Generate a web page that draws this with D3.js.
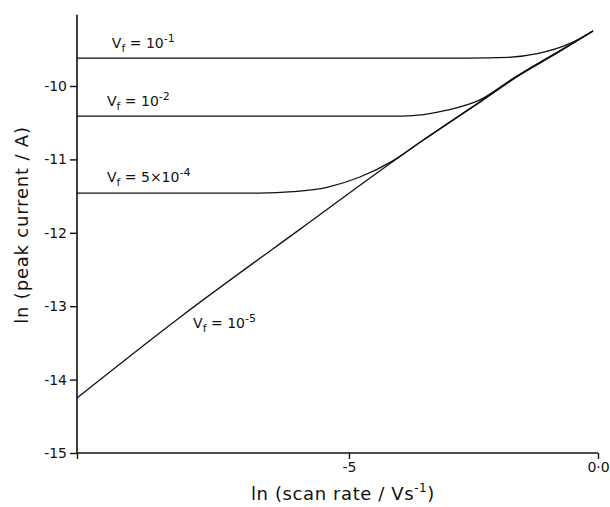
<!DOCTYPE html>
<html>
<head>
<meta charset="utf-8">
<script src="https://cdn.jsdelivr.net/npm/d3@7"></script>
<style>
  html, body { margin: 0; padding: 0; background: #fff; }
  svg { display: block; }
  text { font-family: "DejaVu Sans", "Liberation Sans", sans-serif; fill: #111; }
</style>
</head>
<body>
<svg id="chart" width="610" height="507"></svg>
<script>
// ln(scan rate) and ln(peak current) for each volume fraction Vf
const vf1X = [-10.46, -2.6, -1.8, -1.22, -0.56, -0.10];
const vf1Y = [-9.62, -9.62, -9.61, -9.56, -9.42, -9.25];

const vf2X = [-10.46, -3.92, -3.03, -2.37, -1.71, -1.37, -0.82, -0.10];
const vf2Y = [-10.41, -10.41, -10.33, -10.19, -9.90, -9.76, -9.54, -9.25];

const vf3X = [-10.46, -6.79, -6.12, -5.44, -4.78, -4.12, -3.51, -2.37, -1.57, -0.82, -0.10];
const vf3Y = [-11.46, -11.46, -11.44, -11.38, -11.24, -11.02, -10.735, -10.215, -9.845, -9.545, -9.25];

const vf5X = [-10.46, -8.39, -5.98, -3.51, -2.37, -1.57, -0.82, -0.10];
const vf5Y = [-14.25, -13.15, -11.95, -10.74, -10.22, -9.85, -9.55, -9.25];

const yTicks = [-10, -11, -12, -13, -14, -15];
const yTickLabels = ["-10", "-11", "-12", "-13", "-14", "-15"];
const xTicks = [-5, 0];
const xTickLabels = ["-5", "0\u00b70"];

// curve labels: mantissa prefix, exponent, anchor in data units
const labelPrefix = ["10", "10", "5\u00d710", "10"];
const labelExp = ["-1", "-2", "-4", "-5"];
const labelAt = [[-9.76, -9.48], [-9.86, -10.27], [-9.86, -11.31], [-8.13, -13.30]];

const svg = d3.select("#chart");

const x = d3.scaleLinear().domain([-10.46, 0]).range([77, 598]);
const y = d3.scaleLinear().domain([-15, -10]).range([453, 86]);
const yTop = -9.03;

// axes
const yAxis = d3.axisLeft(y).tickValues(yTicks)
  .tickFormat((d, i) => yTickLabels[i]).tickSize(7).tickPadding(3);
const gy = svg.append("g").attr("transform", `translate(${x(-10.46)},0)`).call(yAxis);
gy.select(".domain").remove();
gy.append("line").attr("x1", 0).attr("x2", 0).attr("y1", y(-15)).attr("y2", y(yTop))
  .attr("stroke", "#111").attr("stroke-width", 1.6);
gy.selectAll(".tick line").attr("stroke", "#111").attr("stroke-width", 1.4);
gy.selectAll(".tick text").style("font-size", "14px").attr("fill", "#111");

const xAxis = d3.axisBottom(x).tickValues([-10.46].concat(xTicks))
  .tickFormat((d) => { const i = xTicks.indexOf(d); return i < 0 ? "" : xTickLabels[i]; })
  .tickSize(6).tickPadding(3);
const gx = svg.append("g").attr("transform", `translate(0,${y(-15)})`).call(xAxis);
gx.select(".domain").attr("stroke", "#111").attr("stroke-width", 1.6).attr("d", `M${x(-10.46)},0H${x(0)}`);
gx.selectAll(".tick line").attr("stroke", "#111").attr("stroke-width", 1.4);
gx.selectAll(".tick text").style("font-size", "14px").attr("fill", "#111");

// axis titles
svg.append("text").attr("x", 343).attr("y", 500).attr("text-anchor", "middle")
  .style("font-size", "18px").style("letter-spacing", "0.6px")
  .html('ln (scan rate / Vs<tspan dy="-8" style="font-size:12px">-1</tspan><tspan dy="8">)</tspan>');

svg.append("text").attr("transform", "translate(28,225) rotate(-90)")
  .attr("text-anchor", "middle").style("font-size", "18px").style("letter-spacing", "0.8px")
  .text("ln (peak current / A)");

// curves
const line = d3.line().x(d => x(d[0])).y(d => y(d[1])).curve(d3.curveMonotoneX);
const series = [[vf1X, vf1Y], [vf2X, vf2Y], [vf3X, vf3Y], [vf5X, vf5Y]];
series.forEach(([xs, ys]) => {
  svg.append("path").datum(xs.map((v, i) => [v, ys[i]]))
    .attr("d", line).attr("fill", "none").attr("stroke", "#111").attr("stroke-width", 1.3);
});

// Vf labels
labelAt.forEach((p, i) => {
  const t = svg.append("text").attr("x", x(p[0])).attr("y", y(p[1])).style("font-size", "14px");
  t.append("tspan").text("V");
  t.append("tspan").attr("dy", 4).style("font-size", "11px").text("f");
  t.append("tspan").attr("dy", -4).text(i === 2 ? " = " : "  =  ");
  t.append("tspan").text(labelPrefix[i]);
  t.append("tspan").attr("dy", -6).style("font-size", "11px").text(labelExp[i]);
});
</script>
</body>
</html>
